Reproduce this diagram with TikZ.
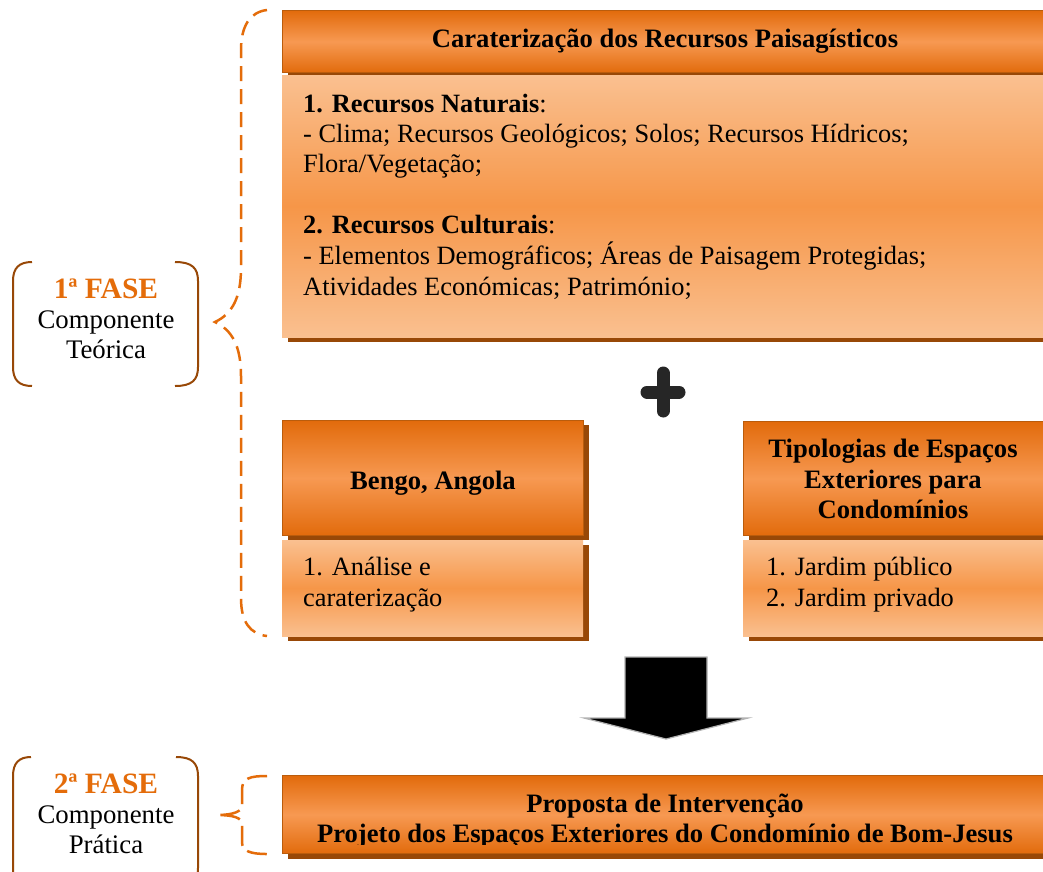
\documentclass[tikz,border=0pt]{standalone}
\usepackage{fontspec}
\setmainfont{Liberation Serif}
\definecolor{dorange}{RGB}{226,107,12}
\definecolor{lorange}{RGB}{247,153,82}
\definecolor{morange}{RGB}{246,150,72}
\definecolor{pale}{RGB}{250,192,144}
\definecolor{shadowc}{RGB}{152,72,7}
\definecolor{hdrline}{RGB}{186,92,12}
\definecolor{bracec}{RGB}{228,108,10}
\definecolor{brkc}{RGB}{152,72,7}
\definecolor{plusc}{RGB}{38,38,38}
\definecolor{fasec}{RGB}{228,108,10}
\begin{document}
\begin{tikzpicture}[x=1pt,y=-1pt,
  hdr/.style={draw=hdrline, line width=1.2pt, top color=dorange, bottom color=dorange, middle color=lorange, inner sep=0pt, anchor=north west},
  bdy/.style={top color=pale, bottom color=pale, middle color=morange, inner sep=0pt, anchor=north west},
  shd/.style={fill=shadowc, draw=none, inner sep=0pt, anchor=north west},
  txt/.style={inner sep=0pt, font=\fontsize{26.4}{30}\selectfont},
  btxt/.style={inner sep=0pt, font=\bfseries\fontsize{26.6}{30}\selectfont},
  fase/.style={inner sep=0pt, text=fasec, font=\bfseries\fontsize{29.5}{32}\selectfont},
  comp/.style={inner sep=0pt, font=\fontsize{26.8}{30}\selectfont},
  bracestyle/.style={draw=bracec, line width=2.5pt, dash pattern=on 15pt off 8pt},
  brkstyle/.style={draw=brkc, line width=2pt}
]
\path[use as bounding box] (0,0) rectangle (1043,871);
\fill[white] (0,0) rectangle (1043,871);
\clip (0,0) rectangle (1043,871);

% ---------- top box ----------
\node[shd, minimum width=766, minimum height=62] (tHs) at (288,15) {};
\node[hdr, minimum width=766, minimum height=62] (tH) at (282,10) {};
\node[shd, minimum width=766, minimum height=262] (tBs) at (288,80) {};
\node[bdy, minimum width=766, minimum height=262] (tB) at (282,75) {};
\node[btxt, anchor=base] (title) at (665,47) {Caraterização dos Recursos Paisagísticos};
\node[txt, anchor=base west] (l1) at (303,112) {\textbf{1. Recursos Naturais}:};
\node[txt, anchor=base west] (l2) at (303,142) {- Clima; Recursos Geológicos; Solos; Recursos Hídricos;};
\node[txt, anchor=base west] (l3) at (303,172) {Flora/Vegetação;};
\node[txt, anchor=base west] (l4) at (303,233) {\textbf{2. Recursos Culturais}:};
\node[txt, anchor=base west] (l5) at (303,264) {- Elementos Demográficos; Áreas de Paisagem Protegidas;};
\node[txt, anchor=base west] (l6) at (303,295) {Atividades Económicas; Património;};

% ---------- plus ----------
\draw[plusc, line width=13pt, line cap=round] (647,392) -- (679,392) (663,373) -- (663,411);

% ---------- Bengo ----------
\node[shd, minimum width=301, minimum height=115] (bHs) at (288,425) {};
\node[hdr, minimum width=301, minimum height=115] (bH) at (282,420) {};
\node[shd, minimum width=301, minimum height=96] (bBs) at (288,545) {};
\node[bdy, minimum width=301, minimum height=96] (bB) at (282,540) {};
\node[btxt, anchor=base] (bengo) at (433,489) {Bengo, Angola};
\node[txt, anchor=base west] (b1) at (303,575) {1. Análise e};
\node[txt, anchor=base west] (b2) at (303,606) {caraterização};

% ---------- Tipologias ----------
\node[shd, minimum width=305, minimum height=114] (pHs) at (749,426) {};
\node[hdr, minimum width=305, minimum height=114] (pH) at (743,421) {};
\node[shd, minimum width=305, minimum height=96] (pBs) at (749,545) {};
\node[bdy, minimum width=305, minimum height=96] (pB) at (743,540) {};
\node[btxt, anchor=base] (p1) at (893,457) {Tipologias de Espaços};
\node[btxt, anchor=base] (p2) at (893,488) {Exteriores para};
\node[btxt, anchor=base] (p3) at (893,518) {Condomínios};
\node[txt, anchor=base west] (j1) at (766,575) {1. Jardim público};
\node[txt, anchor=base west] (j2) at (766,606) {2. Jardim privado};

% ---------- block arrow ----------
\draw[fill=black, draw=gray!60, line width=1.2pt]
  (625,657) -- (707,657) -- (707,718) -- (748,718) -- (666,739) -- (584,718) -- (625,718) -- cycle;

% ---------- bottom box ----------
\node[shd, minimum width=766, minimum height=78] (fBs) at (288,781) {};
\node[hdr, minimum width=766, minimum height=78] (fB) at (282,775) {};
\begin{scope}
\clip (282,775) rectangle (1043,844);
\node[btxt, anchor=base] (f1) at (665,812) {Proposta de Intervenção};
\node[btxt, anchor=base] (f2) at (665,842) {Projeto dos Espaços Exteriores do Condomínio de Bom-Jesus};
\end{scope}

% ---------- 1a FASE ----------
\draw[brkstyle] (32,262) .. controls (19,262) and (13,268) .. (13,281) -- (13,367) .. controls (13,380) and (19,386) .. (32,386);
\draw[brkstyle] (175,262) .. controls (192,262) and (198,268) .. (198,281) -- (198,367) .. controls (198,380) and (192,386) .. (175,386);
\node[fase, anchor=base] (fa1) at (106,298) {1ª FASE};
\node[comp, anchor=base] (fa2) at (106,328) {Componente};
\node[comp, anchor=base] (fa3) at (106,358) {Teórica};

% ---------- 2a FASE ----------
\draw[brkstyle] (31,757) .. controls (19,757) and (13,763) .. (13,776) -- (13,868) .. controls (13,881) and (19,887) .. (31,887);
\draw[brkstyle] (176,757) .. controls (192,757) and (198,763) .. (198,776) -- (198,868) .. controls (198,881) and (192,887) .. (176,887);
\node[fase, anchor=base] (fb1) at (106,793) {2ª FASE};
\node[comp, anchor=base] (fb2) at (106,823) {Componente};
\node[comp, anchor=base] (fb3) at (106,853) {Prática};

% ---------- braces ----------
\draw[bracestyle] (267,10) .. controls (250,12) and (241,26) .. (241,50) -- (241,268)
  .. controls (241,298) and (232,314) .. (215,322)
  .. controls (232,330) and (241,346) .. (241,376) -- (241,598)
  .. controls (241,622) and (250,634) .. (267,636);
\draw[draw=bracec, line width=2.5pt, dash pattern=on 20pt off 7pt] (267,776) .. controls (250,776) and (242,778) .. (242,790) -- (242,806)
  .. controls (242,811) and (234,815) .. (217,815)
  .. controls (234,815) and (242,818) .. (242,824) -- (242,842)
  .. controls (242,851) and (250,854) .. (267,854);
\end{tikzpicture}
\end{document}
